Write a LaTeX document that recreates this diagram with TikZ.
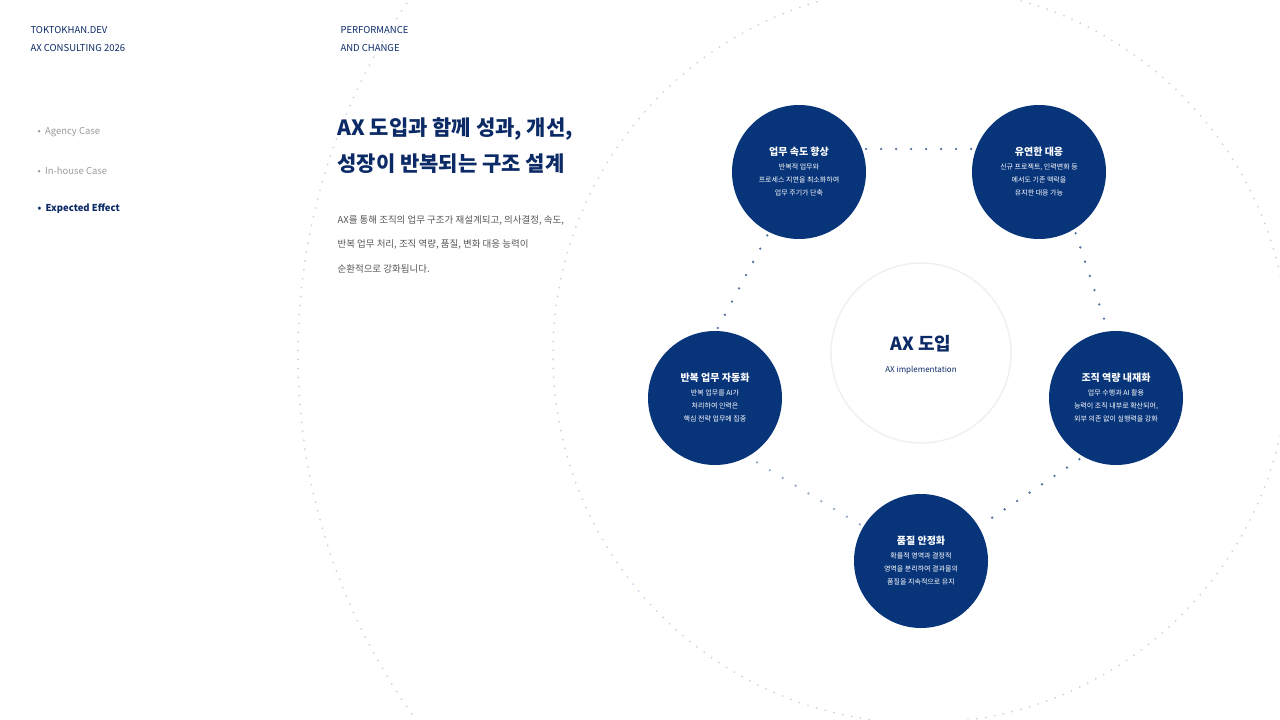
\documentclass[tikz,border=0pt]{standalone}
\usepackage{fontspec}
\setmainfont{Noto Sans CJK KR}
\newfontfamily\krb{Noto Sans CJK KR Bold}
\definecolor{navy}{HTML}{0B2A66}
\definecolor{cfill}{HTML}{08357A}
\definecolor{gtext}{HTML}{9A9A9A}
\definecolor{body}{HTML}{555555}
\definecolor{dotc}{HTML}{4F6FA0}
\definecolor{ringc}{HTML}{C9D3E3}
\begin{document}
\begin{tikzpicture}[x=1pt,y=-1pt,
  bub/.style={circle,fill=cfill,minimum size=134pt,inner sep=0pt,text=white,align=center,font=\fontsize{7}{13}\selectfont},
  link/.style={draw=dotc,line width=2.6pt,line cap=round,dash pattern=on 0pt off 15pt},
  ring/.style={draw=ringc,line width=2pt,line cap=round,dash pattern=on 0pt off 9pt}]
\useasboundingbox (0,0) rectangle (1280,720);
\begin{scope}
\clip (0,0) rectangle (1280,720);
\draw[ring] (921,355) circle (623);
\draw[ring] (921,355) circle (368);
\end{scope}
\node[anchor=north west,text=navy,align=left,font=\fontsize{9.5}{18}\selectfont] (brand) at (27,23) {TOKTOKHAN.DEV\\AX CONSULTING 2026};
\node[anchor=north west,text=navy,align=left,font=\fontsize{9.5}{18}\selectfont] (sec) at (337,23) {PERFORMANCE\\AND CHANGE};
\node[anchor=west,text=gtext,font=\fontsize{9.5}{12}\selectfont] (m1) at (34,132) {•\ \ Agency Case};
\node[anchor=west,text=gtext,font=\fontsize{9.5}{12}\selectfont] (m2) at (34,171) {•\ \ In-house Case};
\node[anchor=west,text=navy,font=\fontsize{9.5}{12}\selectfont\bfseries] (m3) at (34,209) {•\ \ Expected Effect};
\node[anchor=north west,text=navy,align=left,font=\fontsize{21}{36}\selectfont\bfseries] (title) at (334,114) {AX 도입과 함께 성과, 개선,\\성장이 반복되는 구조 설계};
\node[anchor=north west,text=body,align=left,font=\fontsize{9.5}{24.5}\selectfont] (desc) at (334,212) {AX를 통해 조직의 업무 구조가 재설계되고, 의사결정, 속도,\\반복 업무 처리, 조직 역량, 품질, 변화 대응 능력이\\순환적으로 강화됩니다.};
\node[circle,fill=white,draw=black!6,line width=1.5pt,minimum size=180pt,align=center] (ctr) at (921,353) {};
\node[text=navy,font=\fontsize{18}{20}\selectfont\bfseries] (ctt) at (921,344) {AX 도입};
\node[text=navy,font=\fontsize{8}{10}\selectfont] (cts) at (921,370) {AX implementation};
\node[bub] (a) at (799,172) {{\fontsize{10}{14}\selectfont\bfseries 업무 속도 향상}\\[1pt]반복적 업무와\\프로세스 지연을 최소화하여\\업무 주기가 단축};
\node[bub] (b) at (1039,172) {{\fontsize{10}{14}\selectfont\bfseries 유연한 대응}\\[1pt]신규 프로젝트, 인력변화 등\\에서도 기존 맥락을\\유지한 대응 가능};
\node[bub] (c) at (1116,398) {{\fontsize{10}{14}\selectfont\bfseries 조직 역량 내재화}\\[1pt]업무 수행과 AI 활용\\능력이 조직 내부로 확산되어,\\외부 의존 없이 실행력을 강화};
\node[bub] (d) at (921,561) {{\fontsize{10}{14}\selectfont\bfseries 품질 안정화}\\[1pt]확률적 영역과 결정적\\영역을 분리하여 결과물의\\품질을 지속적으로 유지};
\node[bub] (e) at (715,398) {{\fontsize{10}{14}\selectfont\bfseries 반복 업무 자동화}\\[1pt]반복 업무를 AI가\\처리하여 인력은\\핵심 전략 업무에 집중};
\draw[link] ([xshift=4pt]a.20) -- ([xshift=-4pt]b.160);
\draw[link] ([shift={(3,3)}]b.-60) -- ([shift={(-3,-3)}]c.95);
\draw[link] ([shift={(-3,3)}]c.-120) -- ([shift={(3,-3)}]d.30);
\draw[link,draw=dotc!60] ([shift={(-3,-3)}]d.150) -- ([shift={(3,3)}]e.-60);
\draw[link] ([shift={(-3,-3)}]e.85) -- ([shift={(3,3)}]a.-120);
\end{tikzpicture}
\end{document}
